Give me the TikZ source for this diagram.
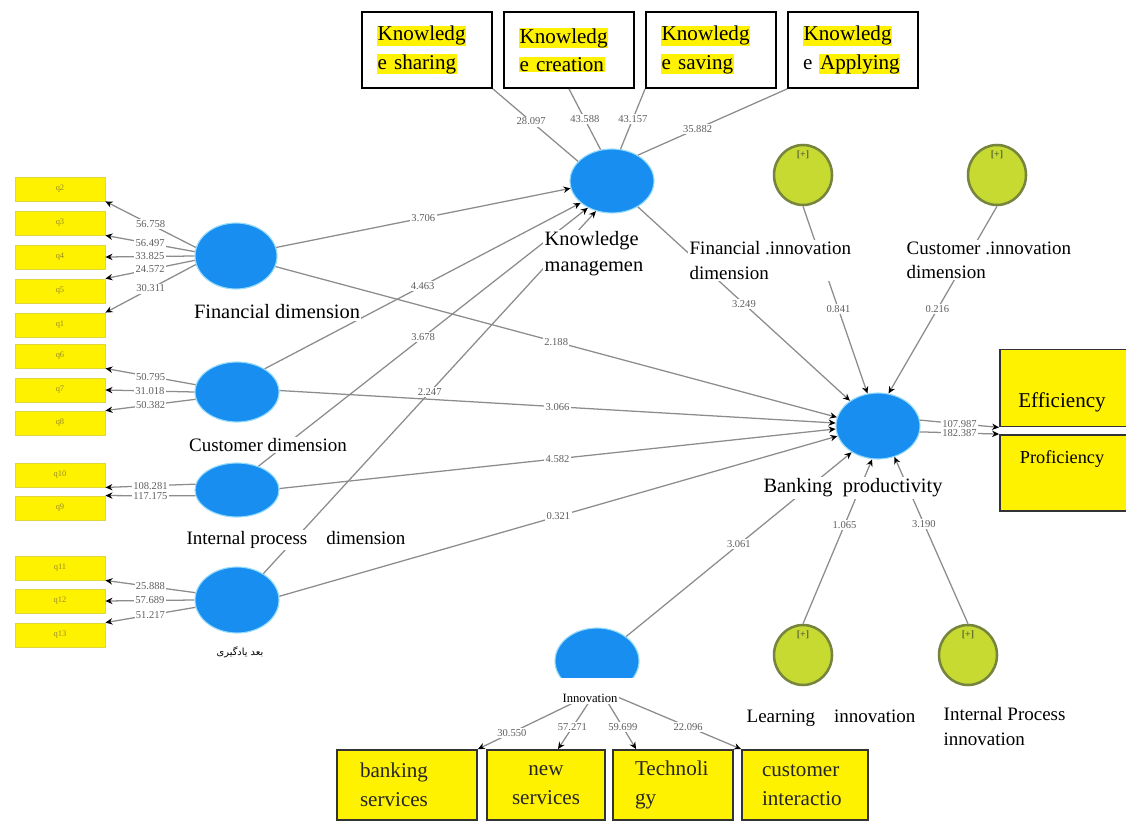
\documentclass[tikz,border=0pt]{standalone}
\usepackage{fontspec}
\setmainfont{Liberation Serif}
\newfontfamily\arabicfont[Script=Arabic]{DejaVu Sans}
\TeXXeTstate=1
\usetikzlibrary{arrows.meta,shapes.geometric,calc}

\definecolor{lvblue}{RGB}{24,142,240}
\definecolor{lvrim}{RGB}{150,220,250}
\definecolor{ingreen}{RGB}{198,218,50}
\definecolor{inolive}{RGB}{118,132,62}
\definecolor{lnkgray}{RGB}{140,140,140}
\definecolor{numgray}{RGB}{95,95,95}
\definecolor{indborder}{RGB}{225,215,60}
\definecolor{indtext}{RGB}{150,140,40}

\newcommand{\pxu}{0.025cm}
\newcommand{\hlt}[1]{{\setlength{\fboxsep}{0.5pt}\colorbox{yellow}{#1}}}

\tikzset{
  latent/.style={ellipse, fill=lvblue, draw=lvrim, line width=0.8pt, inner sep=0pt},
  innov/.style={ellipse, fill=ingreen, draw=inolive, line width=1.8pt, inner sep=0pt, minimum width=58*\pxu, minimum height=60*\pxu},
  plusmark/.style={font=\fontsize{7}{8}\selectfont\bfseries, text=inolive!80!black},
  ind/.style={rectangle, fill=yellow, draw=indborder, line width=0.6pt, minimum width=90*\pxu, minimum height=24*\pxu, inner sep=0pt, font=\fontsize{6}{7}\selectfont, text=indtext},
  kbox/.style={rectangle, draw=black, line width=1.3pt, fill=white, minimum width=130*\pxu, minimum height=76*\pxu, text width=100*\pxu, inner xsep=0pt, align=left, font=\fontsize{15}{20}\selectfont},
  ybox/.style={rectangle, draw=black!80, fill=yellow, line width=1.3pt, minimum height=70*\pxu, inner xsep=0pt, align=left, font=\fontsize{15}{21}\selectfont, text=black!85},
  lnk/.style={draw=lnkgray, line width=0.9pt},
  arr/.style={-{Stealth[length=5pt, width=4.5pt, color=black]}},
  num/.style={font=\fontsize{7.5}{8}\selectfont, text=numgray, fill=white, inner sep=1pt},
  lbl/.style={font=\fontsize{14.5}{18}\selectfont, fill=white, inner sep=1pt, align=left},
  lbls/.style={font=\fontsize{13.5}{17.5}\selectfont, fill=white, inner sep=1pt, align=left},
}

\begin{document}
\begin{tikzpicture}[x=\pxu, y=-\pxu]
\useasboundingbox (0,0) rectangle (1126,822);

% knowledge boxes
\node[kbox] (ksh) at (427,50) {\hlt{Knowledg}\\\hlt{e sharing}};
\node[kbox] (kcr) at (569,50) {\hlt{Knowledg}\\\hlt{e creation}};
\node[kbox] (ksv) at (711,50) {\hlt{Knowledg}\\\hlt{e saving}};
\node[kbox] (kap) at (853,50) {\hlt{Knowledg}\\e \hlt{Applying}};

% latent variables
\node[latent, minimum width=84*\pxu, minimum height=64*\pxu] (KM) at (612,181) {};
\node[latent, minimum width=82*\pxu, minimum height=66*\pxu] (F) at (236,256) {};
\node[latent, minimum width=84*\pxu, minimum height=60*\pxu] (C) at (237,392) {};
\node[latent, minimum width=84*\pxu, minimum height=54*\pxu] (I) at (237,490) {};
\node[latent, minimum width=84*\pxu, minimum height=66*\pxu] (L) at (237,600) {};
\node[latent, minimum width=84*\pxu, minimum height=66*\pxu] (BP) at (878,426) {};
\begin{scope}
  \clip (540,600) rectangle (660,677);
  \node[latent, minimum width=84*\pxu, minimum height=66*\pxu] (INN) at (597,661) {};
\end{scope}

% innovation dimensions
\node[innov] (FI) at (803,175) {};
\node[plusmark] (FIp) at (803,155) {[+]};
\node[innov] (CI) at (997,175) {};
\node[plusmark] (CIp) at (997,155) {[+]};
\node[innov] (LI) at (803,655) {};
\node[plusmark] (LIp) at (803,635) {[+]};
\node[innov] (IPI) at (968,655) {};
\node[plusmark] (IPIp) at (968,635) {[+]};

% indicators
\foreach \q/\y in {q2/189,q3/223,q4/257,q5/291,q1/325,q6/356,q7/390,q8/423,q10/475,q9/508,q11/568,q12/601,q13/635}
  \node[ind] (\q) at (60,\y) {\q};

% outcome boxes
\node[ybox, minimum width=130*\pxu, minimum height=77*\pxu] (eff) at (1065,388) {};
\node[font=\fontsize{15}{18}\selectfont] (efft) at (1062,402) {Efficiency};
\node[ybox, minimum width=130*\pxu, minimum height=76*\pxu] (prf) at (1065,473) {};
\node[font=\fontsize{13}{16}\selectfont] (prft) at (1062,459) {Proficiency};

% innovation boxes
\node[ybox, minimum width=140*\pxu, text width=94*\pxu] (bsv) at (407,785) {banking\\services};
\node[ybox, minimum width=118*\pxu, text width=80*\pxu, align=center] (nsv) at (546,785) {new\\services};
\node[ybox, minimum width=120*\pxu, text width=76*\pxu] (tec) at (673,785) {Technoli\\gy};
\node[ybox, minimum width=126*\pxu, text width=86*\pxu] (cin) at (805,785) {customer\\interactio};

% loadings
\foreach \lv/\q/\a/\t/\v in {
  F/q2/168/south east/56.758, F/q3/174/south east/56.497, F/q4/180/east/33.825,
  F/q5/186/north east/24.572, F/q1/192/north east/30.311,
  C/q6/170/south east/50.795, C/q7/180/east/31.018, C/q8/190/north east/50.382,
  I/q10/172/south east/108.281, I/q9/188/north east/117.175,
  L/q11/170/south east/25.888, L/q12/180/east/57.689, L/q13/190/north east/51.217}
  \draw[lnk, arr] (\lv.\a) -- node[num] {\v} (\q.\t);

% knowledge management indicators
\draw[lnk] (KM.150) -- node[num, pos=0.55] {28.097} (ksh.south east);
\draw[lnk] (KM.110) -- node[num] {43.588} (kcr.south);
\draw[lnk] (KM.75) -- node[num] {43.157} (ksv.south west);
\draw[lnk] (KM.45) -- node[num, pos=0.4] {35.882} (kap.south west);

% structural paths
\draw[lnk, arr] (F.12) -- node[num] {3.706} (KM.190);
\draw[lnk, arr] (F.-15) -- node[num] {2.188} (BP.168);
\draw[lnk, arr] (C.40) -- node[num] {4.463} (KM.215);
\draw[lnk, arr] (C.2) -- node[num] {3.066} (BP.176);
\draw[lnk, arr] (I.48) -- node[num] {3.678} (KM.228);
\draw[lnk, arr] (I.2) -- node[num] {4.582} (BP.184);
\draw[lnk, arr] (L.45) -- node[num] {2.247} (KM.242);
\draw[lnk, arr] (L.5) -- node[num] {0.321} (BP.194);
\draw[lnk, arr] (KM.-45) -- node[num] {3.249} (BP.138);
\draw[lnk, arr] (FI.south) -- node[num, pos=0.55] {0.841} (BP.108);
\draw[lnk, arr] (CI.south) -- node[num, pos=0.55] {0.216} (BP.72);
\draw[lnk, arr] (INN.40) -- node[num] {3.061} (BP.-135);
\draw[lnk, arr] (LI.north) -- node[num, pos=0.6] {1.065} (BP.-100);
\draw[lnk, arr] (IPI.north) -- node[num, pos=0.6] {3.190} (BP.-62);
\draw[lnk, arr] (BP.8) -- node[num] {107.987} (eff.south west);
\draw[lnk, arr] (BP.-8) -- node[num] {182.387} (prf.north west);

% innovation indicators
\draw[lnk, arr] (INN.-100) -- node[num, pos=0.7] {30.550} (bsv.north east);
\draw[lnk, arr] (INN.-95) -- node[num, pos=0.6] {57.271} ($(nsv.north)+(12,0)$);
\draw[lnk, arr] (INN.-80) -- node[num, pos=0.6] {59.699} ($(tec.north west)+(24,0)$);
\draw[lnk, arr] (INN.-70) -- node[num, pos=0.6] {22.096} (cin.north west);

% labels
\node[lbl, anchor=north west] (KMl) at (543,230) {Knowledge\\managemen};
\node[lbl] (Fl) at (277,312) {Financial dimension};
\node[lbls] (Cl) at (268,445) {Customer dimension};
\node[lbls] (Il) at (296,540) {Internal process\quad dimension};
\node[font=\arabicfont\fontsize{7}{8}\selectfont, fill=white, inner sep=1pt] (Ll) at (240,652) {\beginR بعد یادگیری\endR};
\node[lbl] (BPl) at (853,488) {Banking\ \ productivity};
\node[lbls, anchor=north west] (FIl) at (688,240) {Financial .innovation\\dimension};
\node[lbls, anchor=north west] (CIl) at (905,240) {Customer .innovation\\dimension};
\node[lbls, anchor=west] (LIl) at (745,718) {Learning\quad innovation};
\node[lbls, anchor=north west] (IPIl) at (942,706) {Internal Process\\innovation};
\node[font=\fontsize{9}{10}\selectfont, fill=white, inner sep=1pt] (INNl) at (590,698) {Innovation};

\end{tikzpicture}
\end{document}
